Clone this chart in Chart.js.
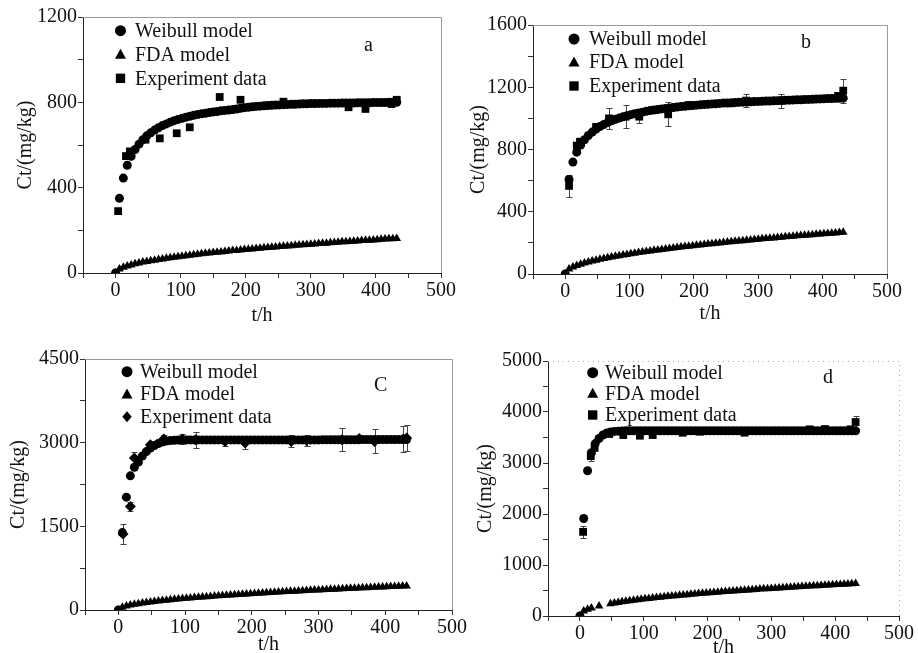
<!DOCTYPE html>
<html>
<head>
<meta charset="utf-8">
<script src="https://cdn.jsdelivr.net/npm/chart.js@4.4.1/dist/chart.umd.min.js"></script>
<style>
  html, body { margin: 0; padding: 0; background: #fff; width: 918px; height: 653px; overflow: hidden; }
  .panel { position: absolute; }
  .panel canvas { display: block; }
</style>
</head>
<body>
<div class="panel" style="left:0;top:0"><canvas id="chart-a" width="470" height="330"></canvas></div>
<div class="panel" style="left:459px;top:0"><canvas id="chart-b" width="459" height="330"></canvas></div>
<div class="panel" style="left:0;top:330px"><canvas id="chart-c" width="480" height="340"></canvas></div>
<div class="panel" style="left:459px;top:330px"><canvas id="chart-d" width="459" height="340"></canvas></div>
<script>
// ---- data ----

// model time grid (h), shared by the Weibull and FDA curves
const T_MODEL = [0,6,12,18,24,30,36,42,48,54,60,66,72,78,84,90,96,102,108,114,120,126,132,138,144,150,156,162,168,174,180,186,192,198,204,210,216,222,228,234,240,246,252,258,264,270,276,282,288,294,300,306,312,318,324,330,336,342,348,354,360,366,372,378,384,390,396,402,408,414,420,426,432];

// panel a
const WEIBULL_A = [0,
  350,445,505,547,579,604,625,643,657,670,
  681,691,699,707,714,720,725,730,735,739,
  743,746,749,752,755,757,760,762,764,766,
  769,772,775,777,779,781,782,784,785,786,
  787,788,789,790,791,791,792,793,793,794,
  794,795,795,795,796,796,796,797,797,797,
  797,798,798,798,798,799,799,799,799,800,
  800,800];
const FDA_A = [0,
  19,27,33,38,43,47,51,54,57,60,
  63,66,69,71,74,76,79,81,83,85,
  88,90,92,94,96,97,99,101,103,105,
  106,108,110,111,113,115,116,118,119,121,
  122,124,125,127,128,130,131,132,134,135,
  136,138,139,140,142,143,144,146,147,148,
  149,150,152,153,154,155,156,158,159,160,
  161,162];
const T_EXP_A = [4, 16, 22, 46, 68, 94, 114, 160, 192, 258, 282, 358, 384, 424, 432];
const EXP_A   = [290, 548, 570, 625, 631, 655, 683, 825, 812, 803, 792, 777, 769, 792, 812];

// panel b
const WEIBULL_B = [0,
  608,719,783,829,863,890,912,931,947,961,
  973,984,994,1002,1010,1017,1024,1030,1035,1040,
  1045,1050,1054,1057,1061,1064,1067,1070,1073,1076,
  1078,1081,1083,1085,1087,1089,1091,1093,1094,1096,
  1098,1099,1100,1102,1103,1104,1105,1107,1108,1109,
  1110,1111,1112,1113,1114,1115,1116,1117,1118,1119,
  1120,1121,1122,1123,1124,1125,1126,1127,1128,1129,
  1129,1130];
const FDA_B = [0,
  32,45,55,63,71,77,84,89,95,100,
  105,109,114,118,122,126,130,134,138,141,
  145,148,152,155,158,161,164,167,170,173,
  176,179,182,184,187,190,192,195,197,200,
  202,205,207,210,212,214,217,219,221,223,
  226,228,230,232,234,236,239,241,243,245,
  247,249,251,253,255,257,259,261,262,264,
  266,268];
const T_EXP_B = [6, 18, 23, 48, 68, 94, 115, 160, 192, 258, 281, 336, 424, 432];
const EXP_B   = [566, 825, 850, 945, 1000, 1011, 1011, 1026, 1086, 1097, 1114, 1114, 1144, 1178];
const ERR_B   = [70, 25, 20, 20, 67, 75, 42, 77, 15, 15, 43, 45, 20, 78];

// panel c
const WEIBULL_C = [0,
  1388,2023,2405,2560,2650,2760,2840,2905,2950,2985,
  3010,3028,3038,3044,3048,3050,3050,3050,3050,3050,
  3050,3050,3050,3050,3050,3050,3050,3050,3050,3050,
  3050,3050,3050,3050,3050,3050,3050,3050,3050,3050,
  3050,3050,3050,3050,3050,3050,3050,3050,3050,3050,
  3052,3052,3052,3052,3052,3052,3052,3052,3052,3052,
  3055,3055,3055,3055,3055,3055,3055,3055,3055,3055,
  3055,3055];
const FDA_C = [0,
  51,72,88,102,114,125,135,144,153,161,
  169,176,184,191,197,204,210,216,222,228,
  233,239,244,250,255,260,265,270,274,279,
  284,288,293,297,301,306,310,314,318,322,
  326,330,334,338,342,346,349,353,357,360,
  364,367,371,374,378,381,385,388,391,395,
  398,401,404,408,411,414,417,420,423,426,
  429,432];
const T_EXP_C = [7, 18, 24, 48, 68, 96, 116, 160, 190, 259, 282, 335, 361, 384, 427, 432];
const EXP_C   = [1364, 1855, 2723, 2962, 3064, 3064, 3052, 3022, 2992, 3022, 3040, 3052, 3076, 3022, 3064, 3082];
const ERR_C   = [180, 80, 110, 30, 70, 90, 140, 78, 99, 108, 100, 210, 30, 215, 230, 240];

// panel d
const WEIBULL_D = [0,
  1912,2848,3200,3380,3480,3550,3590,3610,3620,3625,
  3628,3630,3630,3630,3630,3630,3630,3630,3630,3630,
  3630,3630,3630,3630,3630,3630,3630,3630,3630,3630,
  3630,3630,3630,3630,3630,3630,3630,3630,3630,3630,
  3630,3630,3630,3630,3630,3630,3630,3630,3630,3630,
  3630,3630,3630,3630,3630,3630,3630,3630,3630,3630,
  3630,3630,3630,3630,3630,3630,3630,3630,3630,3630,
  3630,3630];
const FDA_D = [0,
  97,131,157,null,197,null,null,242,255,267,
  278,289,299,309,319,328,337,345,354,362,
  370,377,385,392,399,406,413,419,426,432,
  439,445,451,457,463,468,474,480,485,491,
  496,501,506,512,517,522,527,532,536,541,
  546,551,555,560,564,569,573,578,582,586,
  591,595,599,603,607,612,616,620,624,628,
  631,635];
const T_EXP_D = [5, 17, 23, 46, 68, 94, 114, 161, 188, 258, 360, 384, 424, 432];
const EXP_D   = [1650, 3135, 3306, 3568, 3548, 3535, 3548, 3594, 3614, 3594, 3660, 3666, 3660, 3803];
const ERR_D   = [115, 88, 80, 20, 30, 30, 30, 20, 20, 20, 20, 20, 20, 112];

// axis ranges / tick steps
const X_RANGE = [-50, 500];
const Y_MAX   = { a: 1200, b: 1600, c: 4500, d: 5000 };
const Y_MAJOR = { a: 400,  b: 400,  c: 1500, d: 1000 };

const LEGEND_TEXT = ['Weibull model', 'FDA model', 'Experiment data'];

// ---- look ----
const FONT = "'Liberation Serif', 'Times New Roman', serif";
const INK = '#111';

const zip = (xs, ys) => xs.map((x, i) => ({ x, y: ys[i] }));

function drawMarker(ctx, style, x, y, r) {
  ctx.beginPath();
  if (style === 'circle') {
    ctx.arc(x, y, r, 0, Math.PI * 2);
  } else if (style === 'triangle') {
    ctx.moveTo(x, y - r);
    ctx.lineTo(x + r, y + r * 0.8);
    ctx.lineTo(x - r, y + r * 0.8);
    ctx.closePath();
  } else if (style === 'rect') {
    ctx.rect(x - r * 0.85, y - r * 0.85, r * 1.7, r * 1.7);
  } else {
    ctx.moveTo(x, y - r);
    ctx.lineTo(x + r * 0.85, y);
    ctx.lineTo(x, y + r);
    ctx.lineTo(x - r * 0.85, y);
    ctx.closePath();
  }
  ctx.fill();
}

// error bars under the experiment markers
const errorBars = {
  id: 'errorBars',
  beforeDatasetsDraw(chart, args, opts) {
    if (!opts.errors) return;
    const meta = chart.getDatasetMeta(0);
    const pts = chart.data.datasets[0].data;
    const y = chart.scales.y;
    const ctx = chart.ctx;
    ctx.save();
    ctx.strokeStyle = '#444';
    ctx.lineWidth = 1;
    meta.data.forEach((el, i) => {
      const e = opts.errors[i];
      if (!e) return;
      const top = Math.round(y.getPixelForValue(pts[i].y + e)) + 0.5;
      const bot = Math.round(y.getPixelForValue(pts[i].y - e)) + 0.5;
      const x = Math.round(el.x) + 0.5;
      ctx.beginPath();
      ctx.moveTo(x, top); ctx.lineTo(x, bot);
      ctx.moveTo(x - 3, top); ctx.lineTo(x + 3, top);
      ctx.moveTo(x - 3, bot); ctx.lineTo(x + 3, bot);
      ctx.stroke();
    });
    ctx.restore();
  }
};

// gray top/right frame, in-plot legend and panel letter
const panelDecor = {
  id: 'panelDecor',
  afterDraw(chart, args, opts) {
    const ctx = chart.ctx;
    const a = chart.chartArea;
    ctx.save();
    ctx.strokeStyle = opts.dotted ? '#aaa' : '#999';
    ctx.lineWidth = 1;
    if (opts.dotted) ctx.setLineDash([1, 4]);
    ctx.beginPath();
    ctx.moveTo(a.left, Math.round(a.top) + 0.5);
    ctx.lineTo(Math.round(a.right) + 0.5, Math.round(a.top) + 0.5);
    ctx.lineTo(Math.round(a.right) + 0.5, a.bottom);
    ctx.stroke();
    ctx.setLineDash([]);

    ctx.font = `20px ${FONT}`;
    ctx.textBaseline = 'middle';
    opts.styles.forEach((st, i) => {
      const yy = a.top + opts.rows[i];
      ctx.fillStyle = '#000';
      drawMarker(ctx, st, a.left + opts.markerX, yy, 5.5);
      ctx.fillStyle = INK;
      ctx.fillText(LEGEND_TEXT[i], a.left + opts.textX, yy + 1);
    });
    ctx.fillText(opts.letter[0], opts.letter[1], opts.letter[2]);
    ctx.restore();
  }
};

function makePanel(id, key, geo, series, deco) {
  const yMax = Y_MAX[key], yMajor = Y_MAJOR[key];
  new Chart(document.getElementById(id), {
    type: 'scatter',
    data: {
      datasets: [
        {
          label: LEGEND_TEXT[2],
          data: zip(series.tExp, series.exp),
          pointStyle: series.expStyle,
          pointRadius: series.expStyle === 'rectRot' ? 5.5 : 5.5,
          backgroundColor: '#000', borderColor: '#000', borderWidth: 0,
          order: 0,
        },
        {
          label: LEGEND_TEXT[0],
          data: zip(T_MODEL, series.weibull),
          pointStyle: 'circle', pointRadius: 4.5,
          backgroundColor: '#000', borderColor: '#000', borderWidth: 0,
          order: 1,
        },
        {
          label: LEGEND_TEXT[1],
          data: zip(T_MODEL, series.fda),
          pointStyle: 'triangle', pointRadius: 5,
          backgroundColor: '#000', borderColor: '#000', borderWidth: 0,
          order: 2,
        },
      ]
    },
    options: {
      responsive: false,
      animation: false,
      events: [],
      layout: { padding: geo.pad },
      plugins: {
        legend: { display: false },
        tooltip: { enabled: false },
        errorBars: { errors: series.err },
        panelDecor: deco,
      },
      scales: {
        x: {
          type: 'linear', min: X_RANGE[0], max: X_RANGE[1],
          afterFit: s => { s.height = geo.xh; },
          ticks: {
            stepSize: 50, autoSkip: false, maxRotation: 0, padding: 1,
            color: INK, font: { family: FONT, size: 20 },
            callback: v => (v >= 0 && v % 100 === 0) ? String(v) : '',
          },
          grid: { drawOnChartArea: false, drawTicks: true, tickLength: 5, color: '#333' },
          border: { display: true, color: '#222', width: 1 },
          title: { display: true, text: 't/h', color: INK, font: { family: FONT, size: 20 }, padding: geo.xTitlePad },
        },
        y: {
          type: 'linear', min: 0, max: yMax,
          afterFit: s => { s.width = geo.yw; },
          ticks: {
            stepSize: yMajor / 2, autoSkip: false, padding: 1,
            color: INK, font: { family: FONT, size: 20 },
            callback: v => (v % yMajor === 0) ? String(v) : '',
          },
          grid: { drawOnChartArea: false, drawTicks: true, tickLength: 5, color: '#333' },
          border: { display: true, color: '#222', width: 1 },
          title: { display: true, text: 'Ct/(mg/kg)', color: INK, font: { family: FONT, size: 20 }, padding: geo.yTitlePad },
        }
      }
    },
    plugins: [errorBars, panelDecor]
  });
}

makePanel('chart-a', 'a',
  { yw: 83, xh: 56, pad: { left: 0, top: 17, right: 29, bottom: 1 }, xTitlePad: 1, yTitlePad: 14 },
  { tExp: T_EXP_A, exp: EXP_A, err: null, expStyle: 'rect', weibull: WEIBULL_A, fda: FDA_A },
  { markerX: 37.5, textX: 52, rows: [13.7, 37.3, 61.3], styles: ['circle', 'triangle', 'rect'], letter: ['a', 364, 46] });

makePanel('chart-b', 'b',
  { yw: 74, xh: 56, pad: { left: 0, top: 25, right: 31, bottom: 0 }, xTitlePad: 4, yTitlePad: 8 },
  { tExp: T_EXP_B, exp: EXP_B, err: ERR_B, expStyle: 'rect', weibull: WEIBULL_B, fda: FDA_B },
  { markerX: 41, textX: 56, rows: [14, 37, 61], styles: ['circle', 'triangle', 'rect'], letter: ['b', 342, 43] });

makePanel('chart-c', 'c',
  { yw: 85, xh: 56, pad: { left: 0, top: 29, right: 28, bottom: 4 }, xTitlePad: 9, yTitlePad: 7 },
  { tExp: T_EXP_C, exp: EXP_C, err: ERR_C, expStyle: 'rectRot', weibull: WEIBULL_C, fda: FDA_C },
  { markerX: 42, textX: 55, rows: [12.7, 35, 57.7], styles: ['circle', 'triangle', 'rectRot'], letter: ['C', 374, 56] });

makePanel('chart-d', 'd',
  { yw: 89, xh: 54, pad: { left: 0, top: 31, right: 19, bottom: 0 }, xTitlePad: 10, yTitlePad: 15 },
  { tExp: T_EXP_D, exp: EXP_D, err: ERR_D, expStyle: 'rect', weibull: WEIBULL_D, fda: FDA_D },
  { markerX: 44.7, textX: 57, rows: [11.7, 32.3, 54], styles: ['circle', 'triangle', 'rect'], letter: ['d', 364, 48], dotted: true });
</script>
</body>
</html>
